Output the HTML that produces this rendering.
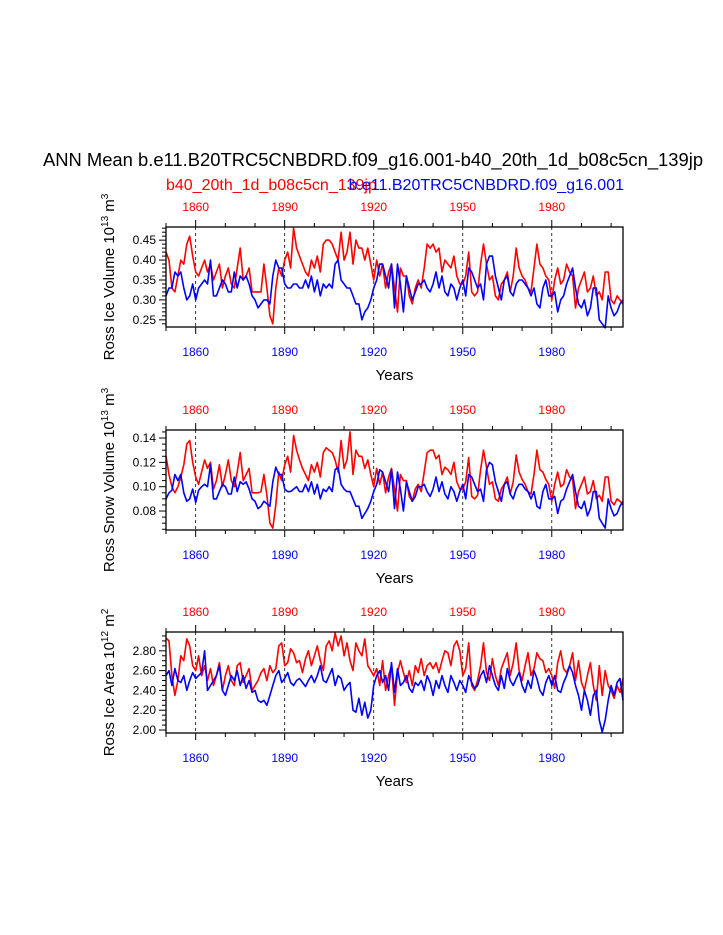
<!DOCTYPE html>
<html><head><meta charset="utf-8"><style>
html,body{margin:0;padding:0;background:#fff;}
svg{display:block;font-family:"Liberation Sans",sans-serif;}
</style></head><body>
<svg id="chart" width="723" height="935" viewBox="0 0 723 935" xmlns="http://www.w3.org/2000/svg">
<text x="373" y="166" font-size="18.4" text-anchor="middle">ANN Mean b.e11.B20TRC5CNBDRD.f09_g16.001-b40_20th_1d_b08c5cn_139jp</text>
<text x="166" y="190" font-size="16" fill="#ff0000">b40_20th_1d_b08c5cn_139jp</text>
<text x="624" y="190" font-size="16" fill="#0000ff" text-anchor="end">b.e11.B20TRC5CNBDRD.f09_g16.001</text>
<g id="plots"></g>
</svg>
<script>
const years0 = 1850;
const volRed = [.42,.40,.33,.32,.36,.40,.39,.44,.46,.41,.37,.36,.38,.40,.37,.39,.35,.37,.39,.33,.36,.38,.34,.33,.38,.43,.35,.36,.38,.32,.32,.32,.32,.39,.33,.26,.24,.33,.38,.36,.40,.42,.38,.48,.43,.41,.39,.37,.36,.40,.38,.41,.37,.44,.45,.45,.44,.42,.40,.47,.40,.42,.47,.39,.45,.43,.43,.40,.43,.39,.35,.40,.36,.39,.33,.37,.39,.33,.27,.38,.36,.36,.31,.29,.33,.35,.33,.38,.44,.43,.44,.42,.43,.37,.40,.39,.38,.41,.36,.34,.34,.36,.42,.32,.31,.32,.39,.44,.39,.35,.36,.31,.30,.34,.35,.37,.32,.36,.43,.38,.36,.35,.33,.32,.38,.44,.39,.38,.36,.35,.30,.35,.38,.34,.35,.39,.37,.36,.28,.33,.35,.37,.32,.33,.36,.31,.32,.30,.37,.37,.30,.29,.31,.30,.29];
const volBlue = [.31,.33,.33,.37,.36,.37,.33,.30,.31,.34,.30,.33,.34,.35,.34,.40,.31,.31,.33,.35,.34,.32,.32,.37,.33,.36,.35,.36,.34,.31,.30,.28,.29,.30,.30,.29,.36,.40,.38,.38,.34,.33,.33,.34,.34,.33,.33,.35,.33,.36,.32,.35,.31,.34,.33,.34,.33,.39,.40,.35,.34,.33,.33,.31,.29,.29,.25,.27,.28,.30,.33,.35,.39,.39,.36,.33,.39,.28,.39,.34,.27,.36,.33,.30,.32,.34,.34,.35,.33,.32,.34,.37,.33,.36,.32,.31,.34,.33,.30,.33,.35,.31,.38,.37,.35,.33,.34,.30,.39,.41,.41,.36,.33,.30,.35,.36,.32,.31,.34,.35,.35,.34,.33,.31,.33,.29,.28,.33,.35,.31,.31,.32,.27,.30,.31,.34,.36,.38,.33,.29,.28,.30,.26,.28,.33,.33,.25,.24,.23,.31,.28,.26,.27,.29,.30];
const snowRed = [.125,.110,.100,.095,.100,.108,.118,.135,.138,.120,.108,.102,.112,.122,.115,.120,.098,.105,.118,.100,.110,.122,.105,.100,.112,.128,.105,.110,.115,.095,.095,.095,.096,.110,.093,.070,.066,.085,.112,.105,.118,.125,.112,.142,.130,.122,.115,.110,.105,.118,.112,.120,.108,.128,.132,.130,.128,.122,.112,.138,.115,.122,.145,.110,.130,.125,.125,.115,.122,.110,.100,.115,.102,.112,.095,.108,.115,.098,.080,.110,.105,.105,.092,.088,.098,.102,.096,.112,.128,.130,.130,.123,.126,.110,.116,.114,.110,.120,.104,.098,.098,.104,.124,.092,.090,.093,.114,.130,.116,.102,.104,.090,.088,.098,.102,.108,.094,.104,.126,.112,.106,.102,.096,.094,.110,.130,.114,.112,.106,.102,.088,.102,.112,.100,.102,.114,.108,.106,.082,.096,.102,.108,.094,.096,.105,.090,.093,.088,.108,.108,.088,.085,.090,.088,.085];
const snowBlue = [.090,.095,.097,.110,.105,.110,.095,.088,.090,.098,.087,.097,.100,.102,.100,.118,.090,.090,.096,.102,.100,.094,.094,.108,.096,.104,.102,.104,.098,.090,.088,.082,.084,.088,.086,.084,.104,.116,.110,.110,.098,.096,.096,.098,.100,.096,.096,.102,.096,.104,.094,.102,.090,.098,.096,.100,.096,.114,.116,.102,.098,.096,.096,.090,.084,.084,.074,.078,.082,.088,.096,.102,.114,.112,.104,.096,.114,.082,.112,.098,.080,.104,.096,.088,.092,.100,.100,.102,.096,.092,.098,.108,.096,.104,.094,.090,.100,.096,.088,.096,.102,.090,.110,.108,.102,.096,.098,.088,.114,.120,.118,.104,.096,.088,.102,.104,.094,.090,.098,.102,.102,.098,.096,.090,.096,.084,.082,.096,.102,.090,.090,.092,.078,.088,.090,.098,.104,.110,.096,.084,.082,.088,.076,.082,.096,.096,.074,.070,.066,.090,.082,.076,.078,.084,.088];
const areaRed = [2.93,2.90,2.55,2.35,2.50,2.75,2.70,2.92,2.85,2.65,2.60,2.75,2.55,2.65,2.50,2.62,2.45,2.55,2.68,2.40,2.55,2.65,2.50,2.45,2.65,2.68,2.48,2.55,2.62,2.40,2.45,2.50,2.58,2.62,2.50,2.65,2.58,2.62,2.85,2.88,2.65,2.68,2.82,2.78,2.68,2.70,2.58,2.72,2.80,2.65,2.75,2.85,2.70,2.60,2.85,2.90,2.80,2.98,2.85,2.95,2.75,2.88,2.70,2.60,2.88,2.80,2.75,2.92,2.65,2.60,2.55,2.62,2.45,2.70,2.40,2.55,2.65,2.25,2.58,2.70,2.58,2.48,2.60,2.45,2.65,2.58,2.72,2.55,2.65,2.68,2.62,2.68,2.58,2.70,2.80,2.78,2.65,2.85,2.90,2.80,2.55,2.62,2.88,2.45,2.40,2.50,2.65,2.88,2.58,2.50,2.72,2.55,2.45,2.62,2.70,2.78,2.55,2.68,2.88,2.60,2.50,2.65,2.78,2.55,2.62,2.78,2.72,2.70,2.58,2.62,2.55,2.42,2.68,2.80,2.62,2.58,2.65,2.78,2.50,2.70,2.48,2.40,2.55,2.68,2.45,2.30,2.65,2.35,2.60,2.45,2.40,2.32,2.45,2.38,2.52];
const areaBlue = [2.55,2.60,2.45,2.62,2.50,2.48,2.55,2.40,2.50,2.58,2.52,2.55,2.58,2.80,2.40,2.45,2.50,2.55,2.65,2.40,2.35,2.45,2.55,2.50,2.60,2.45,2.55,2.42,2.50,2.38,2.40,2.30,2.28,2.30,2.25,2.35,2.45,2.55,2.60,2.48,2.52,2.58,2.48,2.45,2.50,2.52,2.48,2.44,2.50,2.55,2.48,2.55,2.65,2.50,2.48,2.55,2.62,2.45,2.55,2.52,2.40,2.45,2.48,2.20,2.18,2.32,2.15,2.28,2.12,2.20,2.45,2.55,2.60,2.48,2.55,2.40,2.68,2.38,2.62,2.45,2.48,2.55,2.42,2.38,2.48,2.45,2.50,2.40,2.55,2.48,2.35,2.50,2.42,2.55,2.45,2.38,2.55,2.48,2.40,2.50,2.45,2.38,2.55,2.48,2.42,2.45,2.55,2.60,2.48,2.65,2.55,2.45,2.40,2.55,2.42,2.62,2.50,2.45,2.52,2.58,2.45,2.38,2.50,2.42,2.60,2.52,2.40,2.35,2.48,2.55,2.45,2.55,2.40,2.38,2.48,2.55,2.65,2.58,2.45,2.35,2.20,2.40,2.30,2.15,2.35,2.40,2.10,1.98,2.10,2.30,2.45,2.35,2.48,2.52,2.30];
const xLabels = [1860,1890,1920,1950,1980];
const volTicks = [0.25,0.30,0.35,0.40,0.45];
const snowTicks = [0.08,0.10,0.12,0.14];
const areaTicks = [2.00,2.20,2.40,2.60,2.80];

const NS="http://www.w3.org/2000/svg";
const g=document.getElementById('plots');
function mk(tag,attrs,parent){const e=document.createElementNS(NS,tag);for(const k in attrs)e.setAttribute(k,attrs[k]);(parent||g).appendChild(e);return e;}
const X0=166,X1=623,Y0=1850,Y1=2004;
function xs(y){return X0+(y-Y0)/(Y1-Y0)*(X1-X0);}

const panels=[
 {name:'volume',top:227,bot:327,ymin:0.232,ymax:0.483,red:volRed,blue:volBlue,ticks:volTicks,dec:2,minor:0.01,title:'Ross Ice Volume 10',sup:'13',unit:' m',usup:'3'},
 {name:'snow',top:430,bot:530,ymin:0.0644,ymax:0.1466,red:snowRed,blue:snowBlue,ticks:snowTicks,dec:2,minor:0.005,title:'Ross Snow Volume 10',sup:'13',unit:' m',usup:'3'},
 {name:'area',top:632,bot:733,ymin:1.97,ymax:2.99,red:areaRed,blue:areaBlue,ticks:areaTicks,dec:2,minor:0.05,title:'Ross Ice Area 10',sup:'12',unit:' m',usup:'2'}
];
panels.forEach(p=>{
 const pg=mk('g',{});
 
 
 const ys=v=>p.bot-(v-p.ymin)/(p.ymax-p.ymin)*(p.bot-p.top);
 xLabels.forEach(yr=>{const l=mk('line',{x1:xs(yr),x2:xs(yr),y1:p.top,y2:p.bot,stroke:'#000','stroke-width':0.8,'stroke-dasharray':'3,3'},pg);
  
  });
 [['red',p.red,'#ff0000'],['blue',p.blue,'#0000ff']].forEach(([n,arr,c])=>{
  const pts=arr.map((v,i)=>xs(Y0+i).toFixed(1)+','+ys(v).toFixed(1)).join(' ');
  const pl=mk('polyline',{points:pts,fill:'none',stroke:c,'stroke-width':1.6,'stroke-linejoin':'round'},pg);
  
  
 });
 const fr=mk('rect',{x:X0,y:p.top,width:X1-X0,height:p.bot-p.top,fill:'none',stroke:'#000','stroke-width':1.3},pg);
 
 
 for(let yr=1850;yr<=2000;yr+=10){
  const major=xLabels.includes(yr);const L=major?7:4;const x=xs(yr);
  mk('line',{x1:x,x2:x,y1:p.top,y2:p.top-L,stroke:'#000','stroke-width':1},pg);
  mk('line',{x1:x,x2:x,y1:p.bot,y2:p.bot+L,stroke:'#000','stroke-width':1},pg);
 }
 xLabels.forEach(yr=>{
  const t=mk('text',{x:xs(yr),y:p.top-16,'font-size':12,'text-anchor':'middle',fill:'#ff0000'},pg);t.textContent=yr;
  
  
  const b=mk('text',{x:xs(yr),y:p.bot+29,'font-size':12,'text-anchor':'middle',fill:'#0000ff'},pg);b.textContent=yr;
  
  
 });
 const n0=Math.ceil(p.ymin/p.minor-1e-6),n1=Math.floor(p.ymax/p.minor+1e-6);
 for(let k=n0;k<=n1;k++){const v=k*p.minor;const major=p.ticks.some(t=>Math.abs(t-v)<1e-6);const y=ys(v);
  mk('line',{x1:X0,x2:X0-(major?7:4),y1:y,y2:y,stroke:'#000','stroke-width':1},pg);}
 p.ticks.forEach(v=>{const t=mk('text',{x:X0-10,y:ys(v)+4,'font-size':12,'text-anchor':'end'},pg);t.textContent=v.toFixed(p.dec);
  
  });
 const yt=mk('text',{x:0,y:0,'font-size':15,'text-anchor':'middle',transform:`translate(114,${(p.top+p.bot)/2}) rotate(-90)`},pg);
 
 
 yt.innerHTML=p.title+'<tspan dy="-6" font-size="10">'+p.sup+'</tspan><tspan dy="6">'+p.unit+'</tspan><tspan dy="-6" font-size="10">'+p.usup+'</tspan>';
 const xt=mk('text',{x:(X0+X1)/2,y:p.bot+53,'font-size':15,'text-anchor':'middle'},pg);xt.textContent='Years';
 
 
});
</script>
</body></html>
